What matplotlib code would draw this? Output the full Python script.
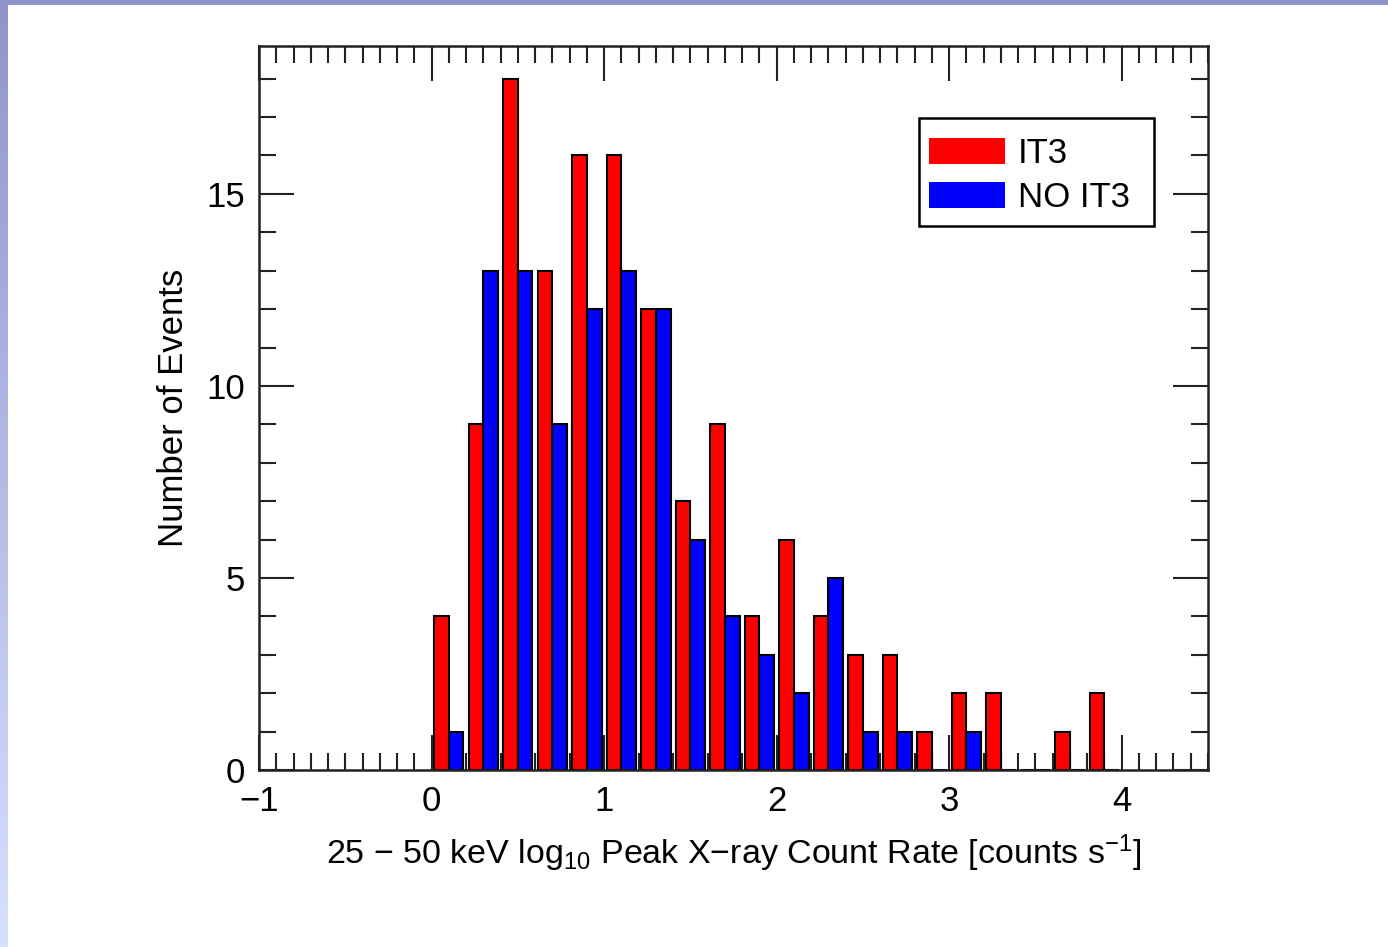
import matplotlib
matplotlib.use("Agg")
import matplotlib.pyplot as plt
import matplotlib.ticker as ticker
import numpy as np

plt.rcParams['font.family'] = ['Liberation Sans', 'DejaVu Sans']
plt.rcParams['mathtext.fontset'] = 'custom'
plt.rcParams['mathtext.rm'] = 'Liberation Sans'
plt.rcParams['mathtext.it'] = 'Liberation Sans'

# histogram bins of 0.2 in log10 peak count rate
bin_starts = [0.0, 0.2, 0.4, 0.6, 0.8, 1.0, 1.2, 1.4, 1.6, 1.8,
              2.0, 2.2, 2.4, 2.6, 2.8, 3.0, 3.2, 3.4, 3.6, 3.8]
it3_counts = [4, 9, 18, 13, 16, 16, 12, 7, 9, 4,
              6, 4, 3, 3, 1, 2, 2, 0, 1, 2]
no_it3_counts = [1, 13, 13, 9, 12, 13, 12, 6, 4, 3,
                 2, 5, 1, 1, 0, 1, 0, 0, 0, 0]

FS = 25

fig = plt.figure(figsize=(13.88, 9.47), dpi=100)

# purple slide decoration: top strip and left gradient strip
top = fig.add_axes([0, 1 - 5 / 947, 1, 5 / 947])
top.axis('off')
top.add_patch(plt.Rectangle((0, 0), 1, 1, color='#8f95cb', transform=top.transAxes))
side = fig.add_axes([0, 0, 8 / 1388, 1])
grad = np.linspace(0, 1, 256).reshape(-1, 1)
cmap = matplotlib.colors.LinearSegmentedColormap.from_list('strip', ['#d6e0ff', '#8f95cb'])
side.imshow(grad, aspect='auto', cmap=cmap, origin='lower', extent=[0, 1, 0, 1])
side.axis('off')

ax = fig.add_axes([259 / 1388, 177 / 947, 949 / 1388, 724 / 947])

x = np.array(bin_starts)
ax.bar(x + 0.015, it3_counts, width=0.085, align='edge', color='#ff0000',
       edgecolor='black', linewidth=1.5, label='IT3')
ax.bar(x + 0.1, no_it3_counts, width=0.085, align='edge', color='#0000ff',
       edgecolor='black', linewidth=1.5, label='NO IT3')

ax.set_xlim(-1, 4.5)
ax.set_ylim(0, 18.85)
ax.set_axisbelow(True)

ax.xaxis.set_major_locator(ticker.MultipleLocator(1))
ax.xaxis.set_minor_locator(ticker.MultipleLocator(0.1))
ax.yaxis.set_major_locator(ticker.MultipleLocator(5))
ax.yaxis.set_minor_locator(ticker.MultipleLocator(1))
ax.tick_params(which='both', direction='in', top=True, right=True, width=1.5,
               color='#222222', labelsize=FS)
ax.tick_params(which='major', length=25)
ax.tick_params(which='minor', length=12.5)
ax.tick_params(axis='x', which='major', pad=11)
ax.tick_params(axis='y', which='major', pad=10)
for s in ax.spines.values():
    s.set_linewidth(1.8)
    s.set_color('#222222')

ax.set_ylabel('Number of Events', fontsize=FS, labelpad=12)
ax.set_xlabel(r'25 $-$ 50 keV log$_{10}$ Peak X$-$ray Count Rate [counts s$^{-1}$]',
              fontsize=24.5, labelpad=10)

# legend box drawn separately so its right margin matches the original
ax.add_patch(plt.Rectangle((0.6955, 0.7514), 0.9431 - 0.6955, 0.9006 - 0.7514,
                           transform=ax.transAxes, facecolor='white',
                           edgecolor='black', linewidth=1.8, zorder=4))
leg = ax.legend(loc='upper left', bbox_to_anchor=(0.7061, 0.8745), fontsize=FS,
                frameon=False, handlelength=2.2, handleheight=0.78,
                handletextpad=0.35, borderpad=0, labelspacing=0.33,
                borderaxespad=0)
leg.set_zorder(5)
for h in leg.legend_handles:
    h.set_edgecolor('none')

fig.savefig('out.png', dpi=100)
